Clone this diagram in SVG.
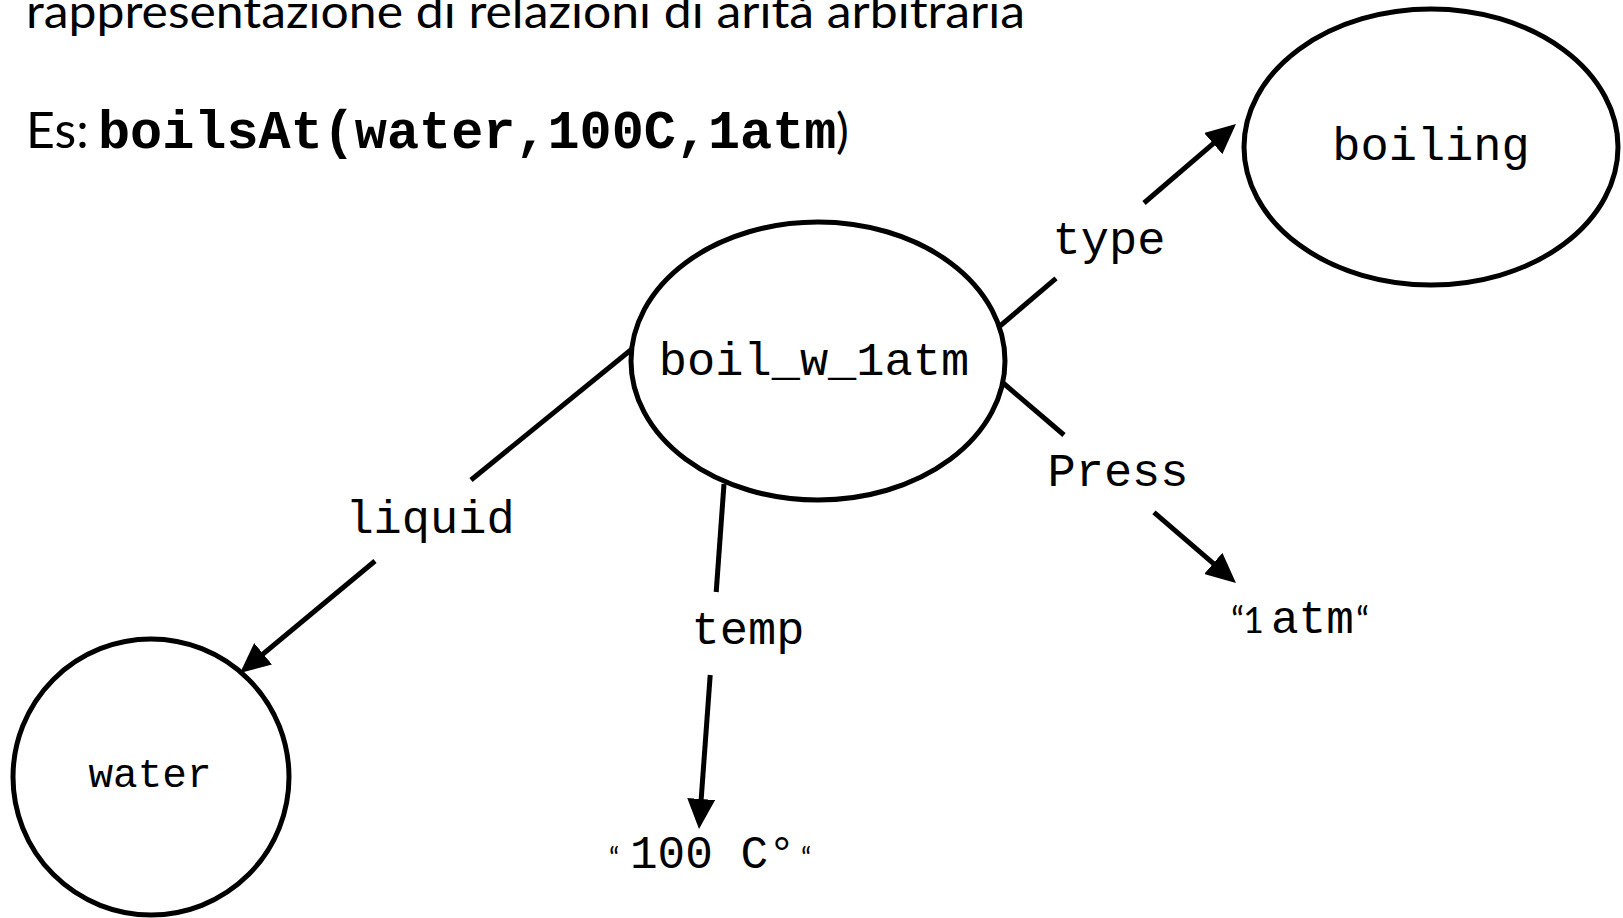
<svg xmlns="http://www.w3.org/2000/svg" width="1623" height="918" viewBox="0 0 1623 918">
  <style>
    .node { fill: #ffffff; stroke: #000000; stroke-width: 5; }
    .edge { fill: none; stroke: #000000; stroke-width: 5; }
    .mono { font-family: "Liberation Mono", "Courier New", monospace; fill: #000000; }
    .lbl { font-size: 47px; text-anchor: middle; }
    .sans { font-family: Lato, "Open Sans", "Noto Sans", sans-serif; fill: #000000; }
  </style>
  <defs>
    <marker id="arrow" markerUnits="userSpaceOnUse" viewBox="0 0 30 28" markerWidth="30" markerHeight="28" refX="15" refY="14" orient="auto">
      <path d="M0,0 L30,14 L0,28 Z" fill="#000000"/>
    </marker>
  </defs>
  <rect width="1623" height="918" fill="#ffffff"/>

  <!-- heading -->
  <text class="sans" x="26" y="28" font-size="46" textLength="999" lengthAdjust="spacingAndGlyphs">rappresentazione di relazioni di arità arbitraria</text>
  <text x="26" y="148"><tspan class="sans" font-size="50">Es:</tspan><tspan class="mono" x="98" font-size="53.5" font-weight="bold">boilsAt(water,100C,1atm</tspan><tspan class="sans" x="836" font-size="48">)</tspan></text>

  <!-- connectors: each edge is split around its label -->
  <g id="connectors">
    <g id="edge-liquid">
      <path class="edge" d="M632,349 L471,480"/>
      <path class="edge" d="M375,561 L251.6,663.4" marker-end="url(#arrow)"/>
      <text class="mono lbl" x="430" y="533">liquid</text>
    </g>
    <g id="edge-temp">
      <path class="edge" d="M724,484 L716.2,592"/>
      <path class="edge" d="M710.2,675 L700.1,814" marker-end="url(#arrow)"/>
      <text class="mono lbl" x="748" y="644">temp</text>
    </g>
    <g id="edge-type">
      <path class="edge" d="M1000,326 L1056,278.4"/>
      <path class="edge" d="M1144,203 L1224.6,133.8" marker-end="url(#arrow)"/>
      <text class="mono lbl" x="1109" y="254">type</text>
    </g>
    <g id="edge-press">
      <path class="edge" d="M1002,382 L1064,435"/>
      <path class="edge" d="M1154,512.4 L1224.6,573.2" marker-end="url(#arrow)"/>
      <text class="mono lbl" x="1118" y="486">Press</text>
    </g>
  </g>

  <!-- nodes -->
  <g id="node-boil_w_1atm">
    <ellipse class="node" cx="818" cy="361" rx="187" ry="139"/>
    <text class="mono lbl" x="814" y="375">boil_w_1atm</text>
  </g>
  <g id="node-boiling">
    <ellipse class="node" cx="1431" cy="147" rx="187" ry="138"/>
    <text class="mono lbl" x="1431" y="160">boiling</text>
  </g>
  <g id="node-water">
    <circle class="node" cx="151" cy="777" r="138"/>
    <text class="mono" x="150" y="787" font-size="41" text-anchor="middle">water</text>
  </g>
  <g id="node-100C">
    <text y="868"><tspan class="sans" x="609" font-size="28">“</tspan><tspan class="mono" x="630" font-size="46">100 C°</tspan><tspan class="sans" x="801" font-size="28">“</tspan></text>
  </g>
  <g id="node-1atm">
    <text y="633"><tspan class="sans" x="1231" font-size="36">“</tspan><tspan class="sans" x="1243" font-size="36">1</tspan><tspan class="mono" x="1271" font-size="46">atm</tspan><tspan class="sans" x="1356" font-size="36">“</tspan></text>
  </g>
</svg>
